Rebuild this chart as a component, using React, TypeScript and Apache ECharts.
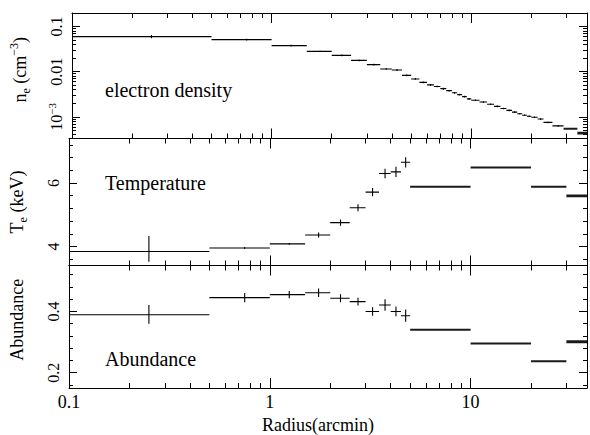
import React, { useEffect, useRef } from 'react';
import * as echarts from 'echarts';

const FONT = 'Liberation Serif';

// Radial range shown on every panel (arcmin)
const X_MIN = 0.1;
const X_MAX = 38;

// Electron density profile: annulus edges (arcmin), n_e (cm^-3) and ± error
const DENS_EDGES = [
  0, 0.5, 1, 1.5, 2, 2.5, 3, 3.5, 4, 4.5, 5,
  5.5, 6, 6.5, 7, 7.5, 8, 8.5, 9, 9.5, 10,
  11, 12, 13, 14, 15, 16, 17, 18, 19, 20,
  21.5, 23, 25.5, 29, 34, 40,
];
const DENS_VALUES = [
  0.060, 0.0514, 0.0378, 0.0282, 0.0230, 0.0178, 0.0143, 0.0115, 0.0109, 0.0083,
  0.0069, 0.0058, 0.0051, 0.0047, 0.0042, 0.0038, 0.0034, 0.0031, 0.0028, 0.0025,
  0.00233, 0.00212, 0.0019, 0.0017, 0.00153, 0.00139, 0.00127, 0.00117, 0.00108, 0.00103,
  0.00098, 0.00089, 0.00075, 0.00063, 0.00054, 0.000435,
];
const DENS_ERR = [
  0.005, 0.002, 0.0015, 0.001, 0.0009, 0.0007, 0.0006, 0.0005, 0.0005, 0.0004,
  0.0003, 0.00025, 0.0002, 0.0002, 0.0002, 0.00015, 0.00015, 0.00013, 0.00012, 0.0001,
  0.0001, 0.00009, 0.00008, 0.00007, 0.00006, 0.00006, 0.00005, 0.00005, 0.00004, 0.00004,
  0.00004, 0.00004, 0.00003, 0.00003, 0.00002, 0.00002,
];

// Temperature and abundance share the same annuli
const SPEC_EDGES = [0, 0.5, 1, 1.5, 2, 2.5, 3, 3.5, 4, 4.5, 5, 10, 20, 30, 40];
const TEMP_VALUES = [3.84, 3.95, 4.08, 4.36, 4.75, 5.22, 5.71, 6.30, 6.35, 6.65, 5.88, 6.49, 5.88, 5.59];
const TEMP_LOW = [3.52, 3.92, 4.05, 4.28, 4.65, 5.11, 5.58, 6.15, 6.19, 6.49, 5.86, 6.47, 5.86, 5.57];
const TEMP_HIGH = [4.33, 3.98, 4.11, 4.44, 4.85, 5.33, 5.84, 6.45, 6.51, 6.81, 5.90, 6.51, 5.90, 5.61];

const ABUND_VALUES = [0.389, 0.445, 0.455, 0.461, 0.443, 0.432, 0.400, 0.421, 0.400, 0.386, 0.340, 0.295, 0.237, 0.301];
const ABUND_LOW = [0.360, 0.430, 0.443, 0.447, 0.430, 0.419, 0.386, 0.402, 0.384, 0.366, 0.338, 0.293, 0.235, 0.299];
const ABUND_HIGH = [0.421, 0.460, 0.467, 0.475, 0.456, 0.445, 0.414, 0.440, 0.416, 0.406, 0.342, 0.297, 0.239, 0.303];

// Tick marks
const X_MAJOR = [1, 10];
const X_MINOR = [0.2, 0.3, 0.4, 0.5, 0.6, 0.7, 0.8, 0.9, 2, 3, 4, 5, 6, 7, 8, 9, 20, 30];
const X_LABELS = [0.1, 1, 10];
const DENS_MAJOR = [0.001, 0.01, 0.1];
const DENS_MINOR = [
  0.0004, 0.0005, 0.0006, 0.0007, 0.0008, 0.0009,
  0.002, 0.003, 0.004, 0.005, 0.006, 0.007, 0.008, 0.009,
  0.02, 0.03, 0.04, 0.05, 0.06, 0.07, 0.08, 0.09,
];
const TEMP_MAJOR = [4, 6];
const TEMP_MINOR = [3.6, 4.4, 4.8, 5.2, 5.6, 6.4, 6.8, 7.2];
const ABUND_MAJOR = [0.2, 0.4];
const ABUND_MINOR = [0.16, 0.24, 0.28, 0.32, 0.36, 0.44, 0.48, 0.52];

const INK = '#000';

function makeBins(edges: number[], values: number[], low: number[], high: number[]) {
  return values.map((v, i) => [edges[i], edges[i + 1], v, low[i], high[i], (edges[i] + edges[i + 1]) / 2]);
}

const densityBins = makeBins(
  DENS_EDGES,
  DENS_VALUES,
  DENS_VALUES.map((v, i) => v - DENS_ERR[i]),
  DENS_VALUES.map((v, i) => v + DENS_ERR[i]),
);
const tempBins = makeBins(SPEC_EDGES, TEMP_VALUES, TEMP_LOW, TEMP_HIGH);
const abundBins = makeBins(SPEC_EDGES, ABUND_VALUES, ABUND_LOW, ABUND_HIGH);

// Each bin: horizontal bar across the annulus plus vertical error bar at its centre
const renderBin = (_params: any, api: any) => {
  const lo0 = api.value(0);
  const hi0 = api.value(1);
  const lo = Math.max(lo0, X_MIN);
  const hi = Math.min(hi0, X_MAX);
  const v = api.value(2);
  const a = api.coord([lo, v]);
  const b = api.coord([hi, v]);
  const wide = hi0 - lo0 >= 5;
  const lw = wide ? (lo0 >= 30 ? 2.8 : 2) : 1.1;
  const children: any[] = [
    {
      type: 'line',
      shape: { x1: a[0], y1: a[1], x2: b[0], y2: b[1] },
      style: { stroke: wide ? '#1a1a1a' : INK, lineWidth: lw },
    },
  ];
  if (!wide) {
    const c = api.value(5);
    const t = api.coord([c, api.value(4)]);
    const u = api.coord([c, api.value(3)]);
    children.push({
      type: 'line',
      shape: { x1: t[0], y1: t[1], x2: u[0], y2: u[1] },
      style: { stroke: INK, lineWidth: 1.1 },
    });
  }
  return { type: 'group', children };
};

const GRIDS = [
  { left: 68, right: 3, top: 13, height: 125.5 },
  { left: 68, right: 3, top: 138.5, height: 127 },
  { left: 68, right: 3, top: 265.5, height: 125 },
];

const tickStyle = { color: INK, width: 1 };

function fmtNum(v: number) {
  return String(Number(v.toPrecision(3)));
}

function xAxesFor(gi: number, withLabels: boolean) {
  const base: any = {
    type: 'log',
    logBase: 10,
    min: X_MIN,
    max: X_MAX,
    gridIndex: gi,
    splitLine: { show: false },
    axisLine: { show: true, onZero: false, lineStyle: { color: INK, width: 1 } },
    axisLabel: { show: false },
  };
  const bottomMajor: any = {
    ...base,
    position: 'bottom',
    axisTick: { inside: true, length: 10, customValues: X_MAJOR, lineStyle: tickStyle },
  };
  if (withLabels) {
    bottomMajor.axisLabel = {
      show: true,
      customValues: X_LABELS,
      formatter: (v: number) => fmtNum(v),
      fontFamily: FONT,
      fontSize: 18,
      color: INK,
      margin: 5,
    };
    bottomMajor.name = 'Radius(arcmin)';
    bottomMajor.nameLocation = 'middle';
    bottomMajor.nameGap = 28;
    bottomMajor.nameTextStyle = { fontFamily: FONT, fontSize: 18, color: INK, padding: [0, 20, 0, 0] };
  }
  return [
    bottomMajor,
    { ...base, position: 'bottom', axisLine: { show: false }, axisTick: { inside: true, length: 5, customValues: X_MINOR, lineStyle: tickStyle } },
    { ...base, position: 'top', axisTick: { inside: true, length: 10, customValues: X_MAJOR, lineStyle: tickStyle } },
    { ...base, position: 'top', axisLine: { show: false }, axisTick: { inside: true, length: 5, customValues: X_MINOR, lineStyle: tickStyle } },
  ];
}

const labelRich = {
  t: { fontFamily: FONT, fontSize: 16, color: INK, lineHeight: 20 },
  sup: { fontFamily: FONT, fontSize: 11, color: INK, verticalAlign: 'top', lineHeight: 12 },
};

const nameRich = {
  t: { fontFamily: FONT, fontSize: 18, color: INK, lineHeight: 24 },
  sub: { fontFamily: FONT, fontSize: 12, color: INK, verticalAlign: 'bottom', lineHeight: 13 },
  sup: { fontFamily: FONT, fontSize: 12, color: INK, verticalAlign: 'top', lineHeight: 13 },
};

function yAxesFor(
  gi: number,
  scale: any,
  major: number[],
  minor: number[],
  formatter: (v: number) => string,
  name: string,
  nameGap: number,
  namePad: number[],
) {
  const base: any = {
    ...scale,
    gridIndex: gi,
    splitLine: { show: false },
    axisLine: { show: true, onZero: false, lineStyle: { color: INK, width: 1 } },
    axisLabel: { show: false },
  };
  return [
    {
      ...base,
      position: 'left',
      name,
      nameLocation: 'middle',
      nameRotate: 90,
      nameGap,
      nameTextStyle: { fontFamily: FONT, rich: nameRich, padding: namePad },
      axisTick: { inside: true, length: 8, customValues: major, lineStyle: tickStyle },
      axisLabel: {
        show: true,
        customValues: major,
        rotate: 90,
        margin: 6,
        fontFamily: FONT,
        formatter,
        rich: labelRich,
      },
    },
    { ...base, position: 'left', axisLine: { show: false }, axisTick: { inside: true, length: 4, customValues: minor, lineStyle: tickStyle } },
    { ...base, position: 'right', axisTick: { inside: true, length: 8, customValues: major, lineStyle: tickStyle } },
    { ...base, position: 'right', axisLine: { show: false }, axisTick: { inside: true, length: 4, customValues: minor, lineStyle: tickStyle } },
  ];
}

const densFmt = (v: number) => {
  const e = Math.round(Math.log10(v));
  if (e <= -3) return `{t|10}{sup|−${-e}}`;
  return `{t|${fmtNum(v)}}`;
};
const plainFmt = (v: number) => `{t|${fmtNum(v)}}`;

function panelLabel(text: string, x: number, y: number) {
  return {
    type: 'text',
    x,
    y,
    style: {
      text,
      fill: INK,
      fontFamily: FONT,
      fontSize: 20,
    },
  };
}

// Force the serif face on every SVG text node the chart emits
const SERIF_CSS = `.chart-serif svg text, .chart-serif svg tspan { font-family: 'Liberation Serif', 'Times New Roman', serif !important; }`;

export default function App() {
  const ref = useRef<HTMLDivElement>(null);

  useEffect(() => {
    if (!ref.current) return;
    const chart = echarts.init(ref.current, undefined, { renderer: 'svg' });

    const option: any = {
      animation: false,
      grid: GRIDS,
      xAxis: [...xAxesFor(0, false), ...xAxesFor(1, false), ...xAxesFor(2, true)],
      yAxis: [
        ...yAxesFor(0, { type: 'log', logBase: 10, min: 0.00033, max: 0.2 }, DENS_MAJOR, DENS_MINOR, densFmt,
          '{t|n}{sub|e}{t| (cm}{sup|−3}{t|)}', 40, [0, 0, 0, 12]),
        ...yAxesFor(1, { type: 'value', min: 3.4, max: 7.4 }, TEMP_MAJOR, TEMP_MINOR, plainFmt,
          '{t|T}{sub|e}{t| (keV)}', 40, [0, 0, 0, 0]),
        ...yAxesFor(2, { type: 'value', min: 0.15, max: 0.55 }, ABUND_MAJOR, ABUND_MINOR, plainFmt,
          '{t|Abundance}', 40, [0, 0, 0, 14]),
      ],
      series: [
        { type: 'custom', name: 'electron density', xAxisIndex: 0, yAxisIndex: 0, clip: true,
          encode: { x: [0, 1, 5], y: [2, 3, 4] }, renderItem: renderBin, data: densityBins },
        { type: 'custom', name: 'Temperature', xAxisIndex: 4, yAxisIndex: 4, clip: true,
          encode: { x: [0, 1, 5], y: [2, 3, 4] }, renderItem: renderBin, data: tempBins },
        { type: 'custom', name: 'Abundance', xAxisIndex: 8, yAxisIndex: 8, clip: true,
          encode: { x: [0, 1, 5], y: [2, 3, 4] }, renderItem: renderBin, data: abundBins },
      ],
      graphic: [
        panelLabel('electron density', 105, 80),
        panelLabel('Temperature', 105, 173),
        panelLabel('Abundance', 105, 349),
      ],
    };

    chart.setOption(option);
    return () => chart.dispose();
  }, []);

  return (
    <>
      <style>{SERIF_CSS}</style>
      <div
        ref={ref}
        className="chart-serif"
        style={{ position: 'absolute', left: 0, top: 0, width: 590, height: 435 }}
      />
    </>
  );
}
